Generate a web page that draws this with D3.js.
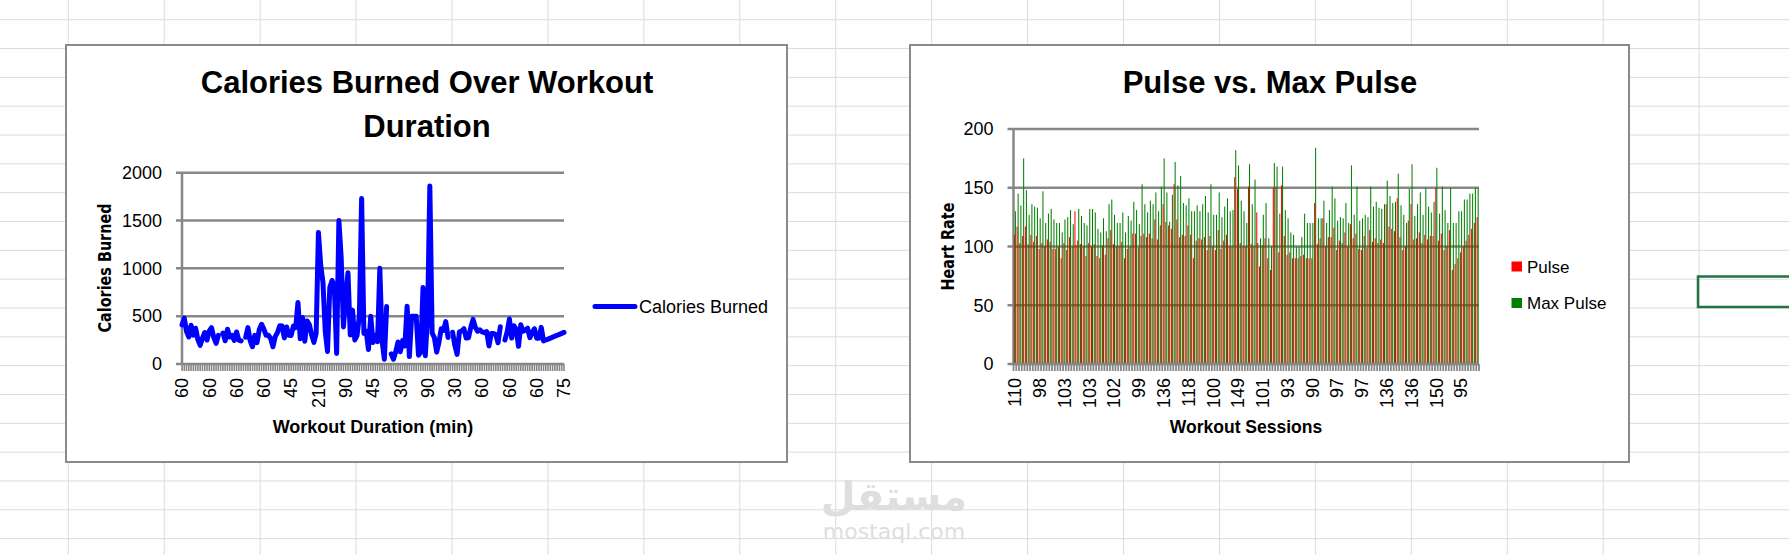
<!DOCTYPE html>
<html>
<head>
<meta charset="utf-8">
<script src="https://cdn.jsdelivr.net/npm/d3@7"></script>
<style>
  html, body { margin: 0; padding: 0; background: #fff; overflow: hidden; }
  svg { display: block; }
</style>
</head>
<body>
<svg id="sheet" width="1789" height="555"></svg>
<script>
// workout log, one entry per session (169 rows)
const duration = [
  60,60,60,45,45,60,60,45,30,60, 60,60,60,60,60,60,60,45,60,45,
  60,45,60,45,60,60,60,60,60,60, 60,45,60,60,60,60,60,60,60,45,
  45,60,60,60,60,60,60,45,45,60, 60,80,60,60,30,60,60,45,20,45,
  210,160,160,45,20,180,150,150,20,300, 150,60,90,150,45,90,45,45,120,270,
  30,45,30,120,45,30,45,120,45,20, 180,45,30,15,20,20,30,25,30,90,
  20,90,90,90,30,30,180,30,90,210, 60,45,15,45,60,60,60,60,60,60,
  30,45,60,60,60,60,60,60,90,60, 60,60,60,60,60,20,45,45,45,20,
  60,60,45,45,60,45,60,60,30,60, 60,60,60,30,60,60,60,60,60,30,
  30,45,45,45,60,60,60,75,75
]
const pulse = [
  110,117,103,109,117,102,110,104,109,98, 103,100,106,104,98,98,100,90,103,97,
  108,100,130,105,102,100,92,103,100,102, 92,90,101,93,107,114,102,100,100,104,
  90,98,100,111,111,99,109,111,108,111, 107,123,106,118,136,121,118,115,153,123,
  108,110,109,118,110,90,105,107,106,108, 97,109,100,97,114,98,105,110,100,100,
  159,149,103,100,100,151,102,100,129,83, 101,107,90,80,150,151,95,152,109,93,
  95,90,90,90,92,93,90,90,90,137, 102,107,124,100,108,108,116,97,105,103,
  112,100,119,107,111,98,97,109,99,114, 104,107,103,106,103,136,117,115,113,141,
  108,97,100,122,136,106,107,112,103,110, 106,109,109,150,105,111,97,100,114,80,
  85,90,95,100,105,110,115,120,125
]
const maxPulse = [
  130,145,135,175,148,127,136,134,133,124, 147,120,128,132,123,120,120,112,123,125,
  131,119,101,132,126,120,118,132,132,129, 115,112,124,113,136,140,127,120,120,129,
  112,126,122,138,131,119,153,136,129,139, 136,146,130,151,175,146,121,144,172,152,
  160,137,135,141,130,130,135,130,136,143, 129,153,127,127,146,125,134,141,130,131,
  182,169,139,130,120,170,136,157,103,107, 127,137,107,100,171,168,128,168,131,124,
  112,110,100,100,108,128,120,120,120,184, 124,124,139,120,131,151,141,122,125,124,
  137,120,169,127,151,122,124,127,125,151, 134,138,133,132,136,156,143,137,138,162,
  135,127,120,149,170,126,136,146,127,150, 134,129,138,167,128,151,131,120,150,120,
  120,130,130,140,140,145,145,150,150
]
// null = empty cell in the sheet, Excel leaves a gap in the line
const calories = [
  409.1,479.0,340.0,282.4,406.0,300.0,374.0,253.3,195.1,269.0,
  329.3,250.7,345.3,379.3,275.0,215.2,300.0,null,323.0,243.0,
  364.2,282.0,300.0,246.0,334.5,250.0,241.0,null,280.0,380.3,
  243.0,180.1,299.0,223.0,361.0,415.0,364.2,300.0,300.0,266.0,
  180.1,286.0,329.4,400.0,397.0,273.0,387.6,300.0,298.0,397.6,
  380.2,643.1,263.0,486.0,238.0,450.7,413.0,305.0,226.4,321.0,
  1376.0,1034.4,853.0,341.0,131.4,800.4,873.4,816.0,110.4,1500.2,
  1115.0,387.6,700.0,953.2,304.0,563.2,251.0,300.0,500.4,1729.0,
  319.2,344.0,151.1,500.0,225.3,300.1,234.0,1000.1,242.0,50.3,
  600.1,null,105.3,50.5,127.4,229.4,128.2,244.2,188.2,604.1,
  77.7,500.0,500.0,500.4,92.7,124.0,800.3,86.2,500.3,1860.4,
  325.2,275.0,124.2,225.3,367.6,351.7,443.0,277.4,null,332.7,
  193.9,100.7,336.7,344.9,368.5,271.0,275.3,382.0,466.4,384.0,
  342.5,357.5,335.0,327.5,339.0,189.0,317.7,318.0,308.0,222.4,
  390.0,null,250.4,335.4,470.2,270.8,400.0,361.9,185.0,409.4,
  343.0,353.2,374.0,275.8,328.0,368.5,270.4,270.4,382.8,240.9,
  250.4,260.4,270.0,280.9,290.8,300.0,310.2,320.4,330.4
]
const calorieTicks = [0, 500, 1000, 1500, 2000]
const pulseTicks = [0, 50, 100, 150, 200]
const pulseSeries = ['Pulse', 'Max Pulse']
const pulseColors = ['#ff0000', '#008000']

const FONT = "'Liberation Sans', Arial, sans-serif"
const WIDE = "'DejaVu Sans', Verdana, sans-serif"
const GRAY = '#878787'

const svg = d3.select('#sheet')
const sessions = d3.range(duration.length)

// ---- spreadsheet background ----
const grid = svg.append('g')
grid.selectAll('line.col')
  .data(d3.range(18).map(i => 68.3 + i * 95.93))
  .enter().append('line')
  .attr('x1', d => d).attr('x2', d => d)
  .attr('y1', 0).attr('y2', 555)
  .attr('stroke', '#dcdcdc')
grid.selectAll('line.row')
  .data(d3.range(19).map(i => 19.7 + i * 28.83))
  .enter().append('line')
  .attr('x1', 0).attr('x2', 1789)
  .attr('y1', d => d).attr('y2', d => d)
  .attr('stroke', '#dcdcdc')

// selected cell
svg.append('rect')
  .attr('x', 1698).attr('y', 276.5)
  .attr('width', 100).attr('height', 30.5)
  .attr('fill', 'none')
  .attr('stroke', '#217346')
  .attr('stroke-width', 2.5)

// watermark
svg.append('text')
  .attr('x', 894).attr('y', 510)
  .attr('text-anchor', 'middle')
  .attr('font-family', WIDE).attr('font-weight', 'bold').attr('font-size', 40)
  .attr('fill', '#dedede')
  .text('مستقل')
svg.append('text')
  .attr('x', 894).attr('y', 539)
  .attr('text-anchor', 'middle')
  .attr('font-family', WIDE).attr('font-size', 22)
  .attr('fill', '#dedede')
  .text('mostaql.com')

function frame(x, y, w, h) {
  svg.append('rect')
    .attr('x', x).attr('y', y)
    .attr('width', w).attr('height', h)
    .attr('fill', '#fff')
    .attr('stroke', '#8a8a8a')
    .attr('stroke-width', 2)
}

function label(g, txt, x, y, size, opts = {}) {
  return g.append('text')
    .attr('x', x).attr('y', y)
    .attr('text-anchor', opts.anchor || 'middle')
    .attr('font-family', opts.family || FONT)
    .attr('font-weight', opts.bold ? 'bold' : 'normal')
    .attr('font-size', size)
    .attr('fill', '#000')
    .text(txt)
}

// draws gridlines, value labels and the left axis line
function valueAxis(g, y, ticks, x0, x1) {
  g.selectAll('line.grid')
    .data(ticks)
    .enter().append('line')
    .attr('x1', x0 - 6).attr('x2', x1)
    .attr('y1', d => y(d)).attr('y2', d => y(d))
    .attr('stroke', GRAY).attr('stroke-width', 2.5)

  g.selectAll('text.ytick')
    .data(ticks)
    .enter().append('text')
    .attr('x', x0 - 20)
    .attr('y', d => y(d))
    .attr('dy', '0.35em')
    .attr('text-anchor', 'end')
    .attr('font-family', FONT).attr('font-size', 18)
    .text(d => d)

  g.append('line')
    .attr('x1', x0).attr('x2', x0)
    .attr('y1', y(ticks[ticks.length - 1])).attr('y2', y(0))
    .attr('stroke', GRAY).attr('stroke-width', 2.5)
}

function categoryLabels(g, idx, xpos, text) {
  g.selectAll('text.xtick')
    .data(idx)
    .enter().append('text')
    .attr('transform', d => `translate(${xpos(d)},378) rotate(-90)`)
    .attr('dy', '0.35em')
    .attr('text-anchor', 'end')
    .attr('font-family', FONT).attr('font-size', 18)
    .text(d => text[d])
}

// ---- chart 1: calories line ----
frame(66, 45, 721, 417)
const c1 = svg.append('g')

const x1 = d3.scalePoint().domain(sessions).range([182, 564])
const y1 = d3.scaleLinear().domain([0, 2000]).range([364, 172.7])

valueAxis(c1, y1, calorieTicks, 182, 564)

c1.selectAll('line.xtick')
  .data(sessions)
  .enter().append('line')
  .attr('x1', d => x1(d)).attr('x2', d => x1(d))
  .attr('y1', 364).attr('y2', 371)
  .attr('stroke', GRAY).attr('stroke-width', 1.6)

const line = d3.line()
  .defined(d => d != null)
  .x((d, i) => x1(i))
  .y(d => y1(d))

c1.append('path')
  .datum(calories)
  .attr('d', line)
  .attr('fill', 'none')
  .attr('stroke', '#0000ff')
  .attr('stroke-width', 5)
  .attr('stroke-linejoin', 'round')
  .attr('stroke-linecap', 'round')

categoryLabels(c1, sessions.filter(i => i % 12 === 0), x1, duration)

label(c1, 'Calories Burned Over Workout', 427, 93, 31, { bold: true })
label(c1, 'Duration', 427, 137, 31, { bold: true })
label(c1, 'Workout Duration (min)', 373, 433, 18, { bold: true })
label(c1, 'Calories Burned', 0, 0, 14.4, { bold: true, family: WIDE })
  .attr('transform', 'translate(111,268) rotate(-90) scale(1,1.25)')

c1.append('line')
  .attr('x1', 595).attr('x2', 635)
  .attr('y1', 306.5).attr('y2', 306.5)
  .attr('stroke', '#0000ff').attr('stroke-width', 5)
  .attr('stroke-linecap', 'round')
label(c1, 'Calories Burned', 639, 312.5, 18, { anchor: 'start' })

// ---- chart 2: pulse columns ----
frame(910, 45, 719, 417)
const c2 = svg.append('g')

const x2 = d3.scaleBand().domain(sessions).range([1013.5, 1479])
  .paddingInner(0.25).paddingOuter(0.12)
const xs = d3.scaleBand().domain(pulseSeries).range([0, x2.bandwidth()])
const y2 = d3.scaleLinear().domain([0, 200]).range([364, 129])
const color = d3.scaleOrdinal().domain(pulseSeries).range(pulseColors)

valueAxis(c2, y2, pulseTicks, 1013.5, 1479)

const rows = sessions.map(i => [pulse[i], maxPulse[i]])
c2.selectAll('g.session')
  .data(rows)
  .enter().append('g')
  .attr('transform', (d, i) => `translate(${x2(i)},0)`)
  .selectAll('rect')
  .data(d => d.map((v, k) => ({ key: pulseSeries[k], value: v })))
  .enter().append('rect')
  .attr('x', d => xs(d.key))
  .attr('y', d => y2(d.value))
  .attr('width', xs.bandwidth())
  .attr('height', d => y2(0) - y2(d.value))
  .attr('fill', d => color(d.key))

c2.selectAll('line.xtick')
  .data(d3.range(sessions.length + 1))
  .enter().append('line')
  .attr('x1', d => 1013.5 + d * x2.step()).attr('x2', d => 1013.5 + d * x2.step())
  .attr('y1', 364).attr('y2', 371)
  .attr('stroke', GRAY).attr('stroke-width', 1.8)

c2.append('line')
  .attr('x1', 1013.5).attr('x2', 1479)
  .attr('y1', 364).attr('y2', 364)
  .attr('stroke', GRAY).attr('stroke-width', 2.5)

categoryLabels(c2, sessions.filter(i => i % 9 === 0),
  d => x2(d) + x2.bandwidth() / 2, pulse)

label(c2, 'Pulse vs. Max Pulse', 1270, 93, 31, { bold: true })
label(c2, 'Workout Sessions', 1246, 433, 17.5, { bold: true })
label(c2, 'Heart Rate', 0, 0, 14.4, { bold: true, family: WIDE })
  .attr('transform', 'translate(954,246.5) rotate(-90) scale(1,1.25)')

pulseSeries.forEach((s, k) => {
  const ly = 261.5 + k * 36.5
  c2.append('rect')
    .attr('x', 1511.5).attr('y', ly)
    .attr('width', 10.5).attr('height', 10)
    .attr('fill', color(s))
  label(c2, s, 1527, ly + 11, 17, { anchor: 'start' })
})
</script>
</body>
</html>
